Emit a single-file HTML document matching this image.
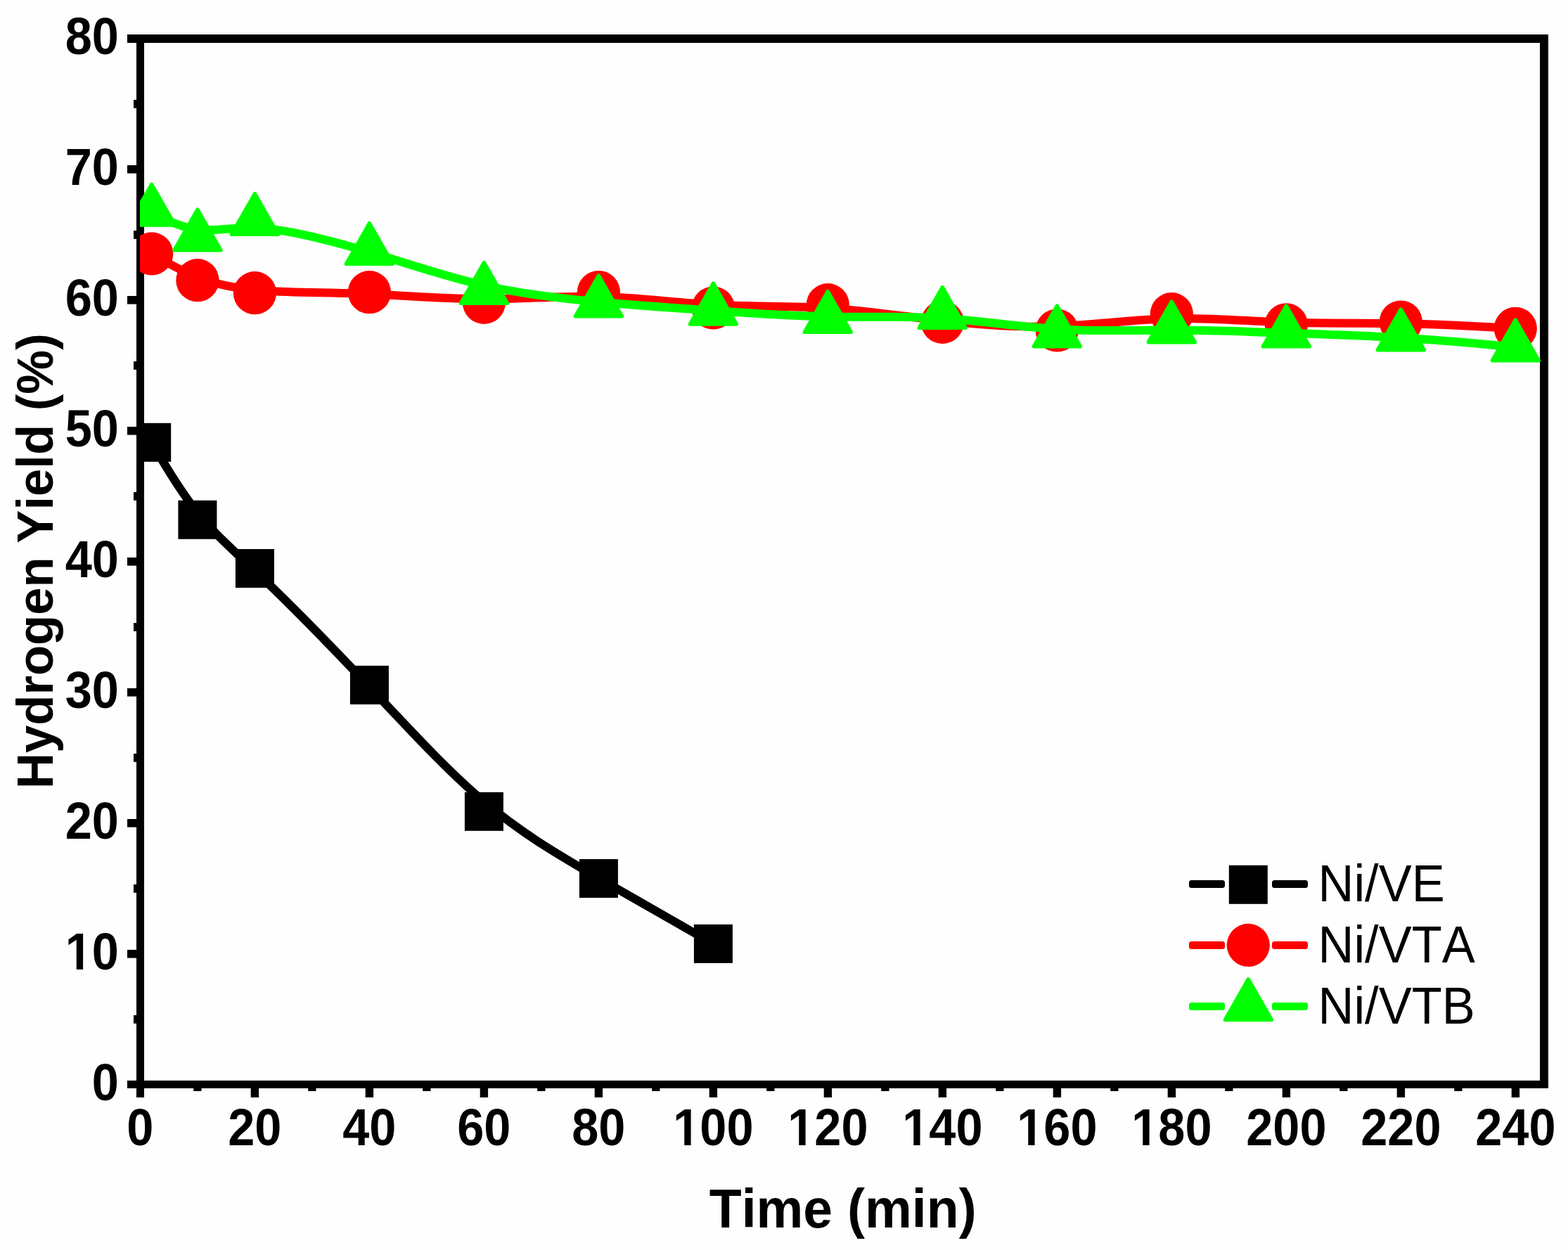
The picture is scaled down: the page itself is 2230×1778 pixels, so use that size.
<!DOCTYPE html>
<html lang="en"><head><meta charset="utf-8"><title>Hydrogen Yield vs Time</title>
<style>html,body{margin:0;padding:0;background:#fefefe;overflow:hidden}svg{display:block}text{font-family:"Liberation Sans",Arial,Helvetica,sans-serif;font-kerning:none;fill:#000}.b{font-weight:bold}</style></head><body>
<svg width="2230" height="1778" viewBox="0 0 2230 1778" role="img" aria-label="Hydrogen yield versus time for Ni/VE, Ni/VTA and Ni/VTB">
<rect x="0" y="0" width="2230" height="1778" fill="#fefefe"/>
<g fill="#000" shape-rendering="crispEdges">
<rect x="194" y="49" width="2008" height="12"/>
<rect x="194" y="1537" width="2008" height="11"/>
<rect x="194" y="49" width="11" height="1499"/>
<rect x="2190" y="49" width="12" height="1499"/>
</g><g fill="#000">
<rect x="190" y="1444.0" width="5" height="11.8"/>
<rect x="181" y="1351.0" width="14" height="11.6"/>
<rect x="190" y="1258.0" width="5" height="11.8"/>
<rect x="181" y="1165.0" width="14" height="11.6"/>
<rect x="190" y="1072.0" width="5" height="11.8"/>
<rect x="181" y="979.0" width="14" height="11.6"/>
<rect x="190" y="886.0" width="5" height="11.8"/>
<rect x="181" y="793.0" width="14" height="11.6"/>
<rect x="190" y="700.0" width="5" height="11.8"/>
<rect x="181" y="607.0" width="14" height="11.6"/>
<rect x="190" y="514.0" width="5" height="11.8"/>
<rect x="181" y="421.0" width="14" height="11.6"/>
<rect x="190" y="328.0" width="5" height="11.8"/>
<rect x="181" y="235.0" width="14" height="11.6"/>
<rect x="190" y="142.0" width="5" height="11.8"/>
<rect x="181" y="49" width="14" height="12"/><rect x="181" y="1537" width="14" height="11"/>
<rect x="275.2" y="1547" width="11.3" height="5"/>
<rect x="356.7" y="1547" width="11.4" height="14"/>
<rect x="438.2" y="1547" width="11.3" height="5"/>
<rect x="519.7" y="1547" width="11.4" height="14"/>
<rect x="601.2" y="1547" width="11.3" height="5"/>
<rect x="682.7" y="1547" width="11.4" height="14"/>
<rect x="764.2" y="1547" width="11.3" height="5"/>
<rect x="845.7" y="1547" width="11.4" height="14"/>
<rect x="927.2" y="1547" width="11.3" height="5"/>
<rect x="1008.7" y="1547" width="11.4" height="14"/>
<rect x="1090.2" y="1547" width="11.3" height="5"/>
<rect x="1171.7" y="1547" width="11.4" height="14"/>
<rect x="1253.2" y="1547" width="11.3" height="5"/>
<rect x="1334.7" y="1547" width="11.4" height="14"/>
<rect x="1416.2" y="1547" width="11.3" height="5"/>
<rect x="1497.7" y="1547" width="11.4" height="14"/>
<rect x="1579.2" y="1547" width="11.3" height="5"/>
<rect x="1660.7" y="1547" width="11.4" height="14"/>
<rect x="1742.2" y="1547" width="11.3" height="5"/>
<rect x="1823.7" y="1547" width="11.4" height="14"/>
<rect x="1905.2" y="1547" width="11.3" height="5"/>
<rect x="1986.7" y="1547" width="11.4" height="14"/>
<rect x="2068.2" y="1547" width="11.3" height="5"/>
<rect x="2149.7" y="1547" width="11.4" height="14"/>
<rect x="194" y="1547" width="11" height="14"/>
</g>
<defs><clipPath id="plotclip"><rect x="199" y="55" width="1997" height="1488"/></clipPath></defs>
<g clip-path="url(#plotclip)">
<path d="M215.6 629.3C215.6 629.3 215.6 629.3 226.5 647.6C237.4 666.0 259.1 702.6 283.6 732.5C308.0 762.4 335.2 785.4 375.9 824.6C416.7 863.8 471.0 919.1 525.3 976.7C579.7 1034.4 634.0 1094.3 688.3 1140.2C742.7 1186.0 797.0 1217.8 851.3 1249.1C905.7 1280.5 960.0 1311.4 987.2 1326.9C1014.3 1342.4 1014.3 1342.4 1014.3 1342.4" fill="none" stroke="#000" stroke-width="12" stroke-linejoin="round"/>
<rect x="188.2" y="601.8" width="55" height="55" fill="#000"/>
<rect x="253.4" y="711.8" width="55" height="55" fill="#000"/>
<rect x="334.9" y="781.0" width="55" height="55" fill="#000"/>
<rect x="497.9" y="946.9" width="55" height="55" fill="#000"/>
<rect x="660.9" y="1126.8" width="55" height="55" fill="#000"/>
<rect x="823.9" y="1222.0" width="55" height="55" fill="#000"/>
<rect x="986.9" y="1314.9" width="55" height="55" fill="#000"/>
<path d="M215.6 360.9C215.6 360.9 215.6 360.9 226.5 367.2C237.4 373.5 259.1 386.1 283.6 395.4C308.0 404.7 335.2 410.7 375.9 413.5C416.7 416.4 471.0 416.0 525.3 418.3C579.7 420.6 634.0 425.4 688.3 425.4C742.7 425.4 797.0 420.5 851.3 421.8C905.7 423.1 960.0 430.5 1014.3 433.5C1068.7 436.6 1123.0 435.1 1177.3 438.5C1231.7 441.9 1286.0 450.1 1340.3 456.1C1394.7 462.2 1449.0 466.1 1503.3 464.2C1557.7 462.2 1612.0 454.5 1666.3 453.1C1720.7 451.7 1775.0 456.8 1829.3 458.6C1883.7 460.5 1938.0 459.3 1992.3 460.2C2046.7 461.1 2101.0 464.2 2128.2 465.7C2155.3 467.3 2155.3 467.3 2155.3 467.3" fill="none" stroke="#f00" stroke-width="12" stroke-linejoin="round"/>
<circle cx="215.7" cy="360.9" r="30.6" fill="#f00"/>
<circle cx="280.9" cy="398.7" r="30.6" fill="#f00"/>
<circle cx="362.4" cy="416.7" r="30.6" fill="#f00"/>
<circle cx="525.4" cy="415.7" r="30.6" fill="#f00"/>
<circle cx="688.4" cy="430.3" r="30.6" fill="#f00"/>
<circle cx="851.4" cy="415.6" r="30.6" fill="#f00"/>
<circle cx="1014.4" cy="438.0" r="30.6" fill="#f00"/>
<circle cx="1177.3" cy="433.7" r="30.6" fill="#f00"/>
<circle cx="1340.3" cy="458.3" r="30.6" fill="#f00"/>
<circle cx="1503.3" cy="470.0" r="30.6" fill="#f00"/>
<circle cx="1666.3" cy="446.7" r="30.6" fill="#f00"/>
<circle cx="1829.3" cy="461.8" r="30.6" fill="#f00"/>
<circle cx="1992.3" cy="458.0" r="30.6" fill="#f00"/>
<circle cx="2155.3" cy="467.3" r="30.6" fill="#f00"/>
<path d="M215.6 300.9C215.6 300.9 215.6 300.9 226.5 306.9C237.4 312.9 259.1 324.8 283.6 327.0C308.0 329.3 335.2 321.8 375.9 325.0C416.7 328.3 471.0 342.3 525.3 358.6C579.7 374.9 634.0 393.6 688.3 406.0C742.7 418.4 797.0 424.6 851.3 429.5C905.7 434.4 960.0 438.1 1014.3 441.9C1068.7 445.7 1123.0 449.5 1177.3 450.4C1231.7 451.3 1286.0 449.3 1340.3 452.7C1394.7 456.1 1449.0 464.8 1503.3 468.2C1557.7 471.6 1612.0 469.6 1666.3 469.6C1720.7 469.7 1775.0 471.7 1829.3 473.6C1883.7 475.4 1938.0 477.1 1992.3 480.4C2046.7 483.7 2101.0 488.7 2128.2 491.2C2155.3 493.7 2155.3 493.7 2155.3 493.7" fill="none" stroke="#0f0" stroke-width="12" stroke-linejoin="round"/>
<path d="M215.7 262.3L248.7 320.0L182.7 320.0Z" fill="#0f0" stroke="#0f0" stroke-width="5.4" stroke-linejoin="round"/>
<path d="M280.9 298.1L313.9 355.9L247.9 355.9Z" fill="#0f0" stroke="#0f0" stroke-width="5.4" stroke-linejoin="round"/>
<path d="M362.4 275.7L395.4 333.4L329.4 333.4Z" fill="#0f0" stroke="#0f0" stroke-width="5.4" stroke-linejoin="round"/>
<path d="M525.4 317.7L558.4 375.4L492.4 375.4Z" fill="#0f0" stroke="#0f0" stroke-width="5.4" stroke-linejoin="round"/>
<path d="M688.4 373.6L721.4 431.3L655.4 431.3Z" fill="#0f0" stroke="#0f0" stroke-width="5.4" stroke-linejoin="round"/>
<path d="M851.4 392.1L884.4 449.9L818.4 449.9Z" fill="#0f0" stroke="#0f0" stroke-width="5.4" stroke-linejoin="round"/>
<path d="M1014.4 403.2L1047.3 461.0L981.4 461.0Z" fill="#0f0" stroke="#0f0" stroke-width="5.4" stroke-linejoin="round"/>
<path d="M1177.3 414.7L1210.3 472.4L1144.3 472.4Z" fill="#0f0" stroke="#0f0" stroke-width="5.4" stroke-linejoin="round"/>
<path d="M1340.3 408.6L1373.3 466.4L1307.3 466.4Z" fill="#0f0" stroke="#0f0" stroke-width="5.4" stroke-linejoin="round"/>
<path d="M1503.3 435.0L1536.3 492.8L1470.3 492.8Z" fill="#0f0" stroke="#0f0" stroke-width="5.4" stroke-linejoin="round"/>
<path d="M1666.3 429.0L1699.3 486.7L1633.3 486.7Z" fill="#0f0" stroke="#0f0" stroke-width="5.4" stroke-linejoin="round"/>
<path d="M1829.3 435.2L1862.3 492.9L1796.3 492.9Z" fill="#0f0" stroke="#0f0" stroke-width="5.4" stroke-linejoin="round"/>
<path d="M1992.3 440.1L2025.3 497.8L1959.3 497.8Z" fill="#0f0" stroke="#0f0" stroke-width="5.4" stroke-linejoin="round"/>
<path d="M2155.3 455.1L2188.3 512.8L2122.3 512.8Z" fill="#0f0" stroke="#0f0" stroke-width="5.4" stroke-linejoin="round"/>
</g>
<rect x="1691" y="1252.0" width="51" height="11" rx="3.5" fill="#000"/>
<rect x="1809" y="1252.0" width="51" height="11" rx="3.5" fill="#000"/>
<rect x="1747.8" y="1230.8" width="55" height="55" fill="#000"/>
<rect x="1691" y="1338.9" width="51" height="11" rx="3.5" fill="#f00"/>
<rect x="1809" y="1338.9" width="51" height="11" rx="3.5" fill="#f00"/>
<circle cx="1775.3" cy="1344.4" r="30.6" fill="#f00"/>
<rect x="1691" y="1425.9" width="51" height="11" rx="3.5" fill="#0f0"/>
<rect x="1809" y="1425.9" width="51" height="11" rx="3.5" fill="#0f0"/>
<path d="M1775.3 1392.8L1808.3 1450.5L1742.3 1450.5Z" fill="#0f0" stroke="#0f0" stroke-width="5.4" stroke-linejoin="round"/>
<text transform="translate(168.90 1564.55) scale(1.0000 1.0690)" font-size="68.50" class="b" text-anchor="end">0</text>
<text transform="translate(168.90 1378.55) scale(1.0000 1.0690)" font-size="68.50" class="b" text-anchor="end">10</text>
<text transform="translate(168.90 1192.55) scale(1.0000 1.0690)" font-size="68.50" class="b" text-anchor="end">20</text>
<text transform="translate(168.90 1006.55) scale(1.0000 1.0690)" font-size="68.50" class="b" text-anchor="end">30</text>
<text transform="translate(168.90 820.55) scale(1.0000 1.0690)" font-size="68.50" class="b" text-anchor="end">40</text>
<text transform="translate(168.90 634.55) scale(1.0000 1.0690)" font-size="68.50" class="b" text-anchor="end">50</text>
<text transform="translate(168.90 448.55) scale(1.0000 1.0690)" font-size="68.50" class="b" text-anchor="end">60</text>
<text transform="translate(168.90 262.55) scale(1.0000 1.0690)" font-size="68.50" class="b" text-anchor="end">70</text>
<text transform="translate(168.90 76.55) scale(1.0000 1.0690)" font-size="68.50" class="b" text-anchor="end">80</text>
<text transform="translate(199.35 1628.80) scale(1.0000 1.0690)" font-size="68.50" class="b" text-anchor="middle">0</text>
<text transform="translate(362.35 1628.80) scale(1.0000 1.0690)" font-size="68.50" class="b" text-anchor="middle">20</text>
<text transform="translate(525.35 1628.80) scale(1.0000 1.0690)" font-size="68.50" class="b" text-anchor="middle">40</text>
<text transform="translate(688.35 1628.80) scale(1.0000 1.0690)" font-size="68.50" class="b" text-anchor="middle">60</text>
<text transform="translate(851.35 1628.80) scale(1.0000 1.0690)" font-size="68.50" class="b" text-anchor="middle">80</text>
<text transform="translate(1014.35 1628.80) scale(1.0000 1.0690)" font-size="68.50" class="b" text-anchor="middle">100</text>
<text transform="translate(1177.35 1628.80) scale(1.0000 1.0690)" font-size="68.50" class="b" text-anchor="middle">120</text>
<text transform="translate(1340.35 1628.80) scale(1.0000 1.0690)" font-size="68.50" class="b" text-anchor="middle">140</text>
<text transform="translate(1503.35 1628.80) scale(1.0000 1.0690)" font-size="68.50" class="b" text-anchor="middle">160</text>
<text transform="translate(1666.35 1628.80) scale(1.0000 1.0690)" font-size="68.50" class="b" text-anchor="middle">180</text>
<text transform="translate(1829.35 1628.80) scale(1.0000 1.0690)" font-size="68.50" class="b" text-anchor="middle">200</text>
<text transform="translate(1992.35 1628.80) scale(1.0000 1.0690)" font-size="68.50" class="b" text-anchor="middle">220</text>
<text transform="translate(2155.35 1628.80) scale(1.0000 1.0690)" font-size="68.50" class="b" text-anchor="middle">240</text>
<g fill="#fefefe">
<rect x="960.00" y="1620.5" width="13.25" height="9.5"/>
<rect x="982.60" y="1620.5" width="11.9" height="9.5"/>
<rect x="1123.00" y="1620.5" width="13.25" height="9.5"/>
<rect x="1145.60" y="1620.5" width="11.9" height="9.5"/>
<rect x="1286.00" y="1620.5" width="13.25" height="9.5"/>
<rect x="1308.60" y="1620.5" width="11.9" height="9.5"/>
<rect x="1449.00" y="1620.5" width="13.25" height="9.5"/>
<rect x="1471.60" y="1620.5" width="11.9" height="9.5"/>
<rect x="1612.00" y="1620.5" width="13.25" height="9.5"/>
<rect x="1634.60" y="1620.5" width="11.9" height="9.5"/>
<rect x="96" y="1370.5" width="12.73" height="9.5"/><rect x="118.12" y="1370.5" width="11.9" height="9.5"/>
</g>
<text transform="translate(1198.70 1746.00) scale(1.0000 1.0250)" font-size="75.16" class="b" text-anchor="middle">Time (min)</text>
<text transform="translate(75.00 798.20) rotate(-90) scale(1.0000 1.0250)" font-size="70.68" class="b" text-anchor="middle">Hydrogen Yield (%)</text>
<text transform="translate(1874.50 1281.80) scale(1.0000 1.0400)" font-size="70.50" text-anchor="start">Ni/VE</text>
<text transform="translate(1874.50 1368.80) scale(1.0000 1.0400)" font-size="70.50" text-anchor="start">Ni/VTA</text>
<text transform="translate(1874.50 1455.80) scale(1.0000 1.0400)" font-size="70.50" text-anchor="start">Ni/VTB</text>
</svg></body></html>
